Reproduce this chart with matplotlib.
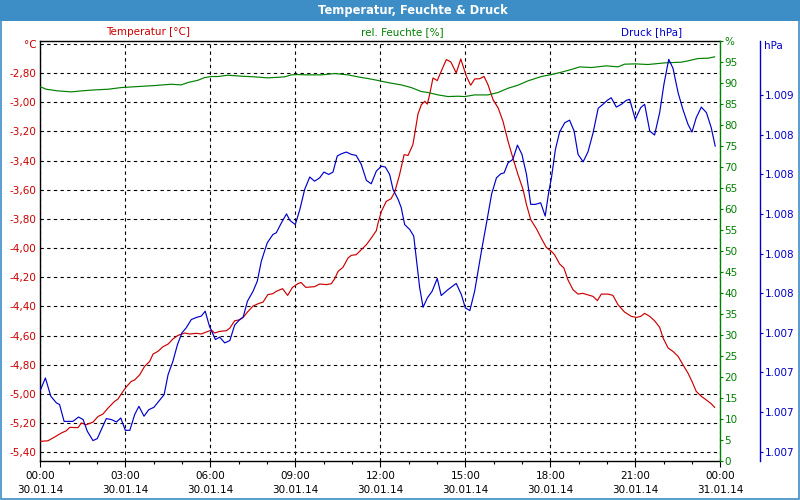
import numpy as np
import matplotlib
matplotlib.use("Agg")
import matplotlib.pyplot as plt
from matplotlib.patches import Rectangle
from matplotlib.ticker import FixedLocator, FuncFormatter, MultipleLocator

title = "Temperatur, Feuchte & Druck"
series_labels = ["Temperatur [°C]", "rel. Feuchte [%]", "Druck [hPa]"]
unit_labels = ["°C", "%", "hPa"]

x_ticks = [0, 3, 6, 9, 12, 15, 18, 21, 24]
x_tick_labels = ["00:00\n30.01.14", "03:00\n30.01.14", "06:00\n30.01.14",
                 "09:00\n30.01.14", "12:00\n30.01.14", "15:00\n30.01.14",
                 "18:00\n30.01.14", "21:00\n30.01.14", "00:00\n31.01.14"]

temp_ticks = [-5.4, -5.2, -5.0, -4.8, -4.6, -4.4, -4.2, -4.0, -3.8, -3.6, -3.4, -3.2, -3.0, -2.8, -2.6]
hum_ticks = list(range(0, 101, 5))
press_ticks = [1006.8, 1007.0, 1007.2, 1007.4, 1007.6, 1007.8, 1008.0, 1008.2, 1008.4, 1008.6]

# time in hours since 30.01.14 00:00
t_temp = [0.01, 0.27, 0.51, 0.74, 0.92, 1.04, 1.33, 1.45, 1.62, 1.86, 2.04, 2.21, 2.39, 2.62, 2.74,
          2.92, 3.04, 3.21, 3.33, 3.51, 3.68, 3.86, 3.98, 4.15, 4.33, 4.51, 4.68, 4.86, 5.10, 5.27,
          5.51, 5.68, 5.86, 6.04, 6.15, 6.33, 6.57, 6.69, 6.86, 7.04, 7.16, 7.33, 7.51, 7.69, 7.86,
          8.03, 8.21, 8.33, 8.55, 8.73, 8.90, 9.09, 9.20, 9.37, 9.68, 9.86, 10.10, 10.27, 10.39,
          10.51, 10.68, 10.86, 10.98, 11.15, 11.33, 11.51, 11.68, 11.86, 11.92, 12.04, 12.21, 12.38,
          12.51, 12.68, 12.84, 12.98, 13.15, 13.23, 13.33, 13.45, 13.57, 13.66, 13.74, 13.86, 14.01,
          14.15, 14.33, 14.49, 14.68, 14.84, 15.04, 15.19, 15.33, 15.51, 15.66, 15.80, 15.98, 16.16,
          16.33, 16.51, 16.68, 16.86, 17.04, 17.16, 17.31, 17.51, 17.68, 17.86, 18.04, 18.15, 18.33,
          18.48, 18.62, 18.80, 18.98, 19.15, 19.31, 19.51, 19.66, 19.80, 20.04, 20.21, 20.39, 20.62,
          20.86, 21.04, 21.19, 21.33, 21.51, 21.68, 21.86, 21.98, 22.16, 22.33, 22.51, 22.68, 22.86,
          23.00, 23.15, 23.33, 23.54, 23.68, 23.80]
temp = [-5.325, -5.321, -5.295, -5.268, -5.252, -5.229, -5.231, -5.199, -5.211, -5.193, -5.154, -5.138,
        -5.097, -5.051, -5.035, -4.982, -4.950, -4.914, -4.904, -4.868, -4.811, -4.777, -4.726, -4.708,
        -4.676, -4.658, -4.623, -4.598, -4.582, -4.589, -4.584, -4.589, -4.575, -4.562, -4.582, -4.571,
        -4.566, -4.548, -4.498, -4.491, -4.475, -4.434, -4.397, -4.381, -4.370, -4.319, -4.312, -4.296,
        -4.278, -4.324, -4.269, -4.244, -4.235, -4.269, -4.264, -4.246, -4.250, -4.244, -4.210, -4.159,
        -4.132, -4.068, -4.049, -4.045, -4.011, -3.976, -3.931, -3.880, -3.828, -3.748, -3.679, -3.661,
        -3.615, -3.496, -3.359, -3.364, -3.290, -3.199, -3.080, -3.016, -2.993, -3.012, -2.948, -2.833,
        -2.851, -2.787, -2.707, -2.723, -2.799, -2.703, -2.822, -2.883, -2.840, -2.838, -2.822, -2.879,
        -2.982, -3.039, -3.130, -3.268, -3.382, -3.496, -3.599, -3.702, -3.805, -3.867, -3.931, -3.995,
        -4.022, -4.045, -4.109, -4.136, -4.216, -4.285, -4.315, -4.310, -4.319, -4.331, -4.360, -4.315,
        -4.315, -4.324, -4.388, -4.438, -4.468, -4.475, -4.468, -4.447, -4.468, -4.498, -4.543, -4.616,
        -4.685, -4.708, -4.742, -4.799, -4.857, -4.914, -4.982, -5.016, -5.046, -5.067, -5.092]

t_hum = [0.01, 0.21, 0.62, 1.10, 1.45, 1.92, 2.39, 2.86, 3.45, 4.04, 4.62, 4.97, 5.21, 5.57, 5.80,
         6.04, 6.27, 6.62, 7.10, 7.57, 8.04, 8.62, 8.86, 9.09, 9.45, 9.92, 10.39, 10.86, 11.21, 11.57,
         11.92, 12.04, 12.39, 12.74, 13.09, 13.45, 13.69, 14.04, 14.39, 14.74, 14.98, 15.33, 15.80,
         16.15, 16.51, 16.86, 17.21, 17.68, 18.04, 18.39, 18.74, 19.04, 19.45, 19.98, 20.39, 20.62,
         21.00, 21.45, 22.04, 22.62, 22.86, 23.21, 23.56, 23.80]
hum = [88.97, 88.41, 88.02, 87.78, 88.02, 88.25, 88.41, 88.81, 89.05, 89.29, 89.60, 89.44, 90.00,
       90.56, 91.19, 91.43, 91.43, 91.75, 91.51, 91.35, 91.11, 91.35, 91.83, 91.90, 91.83, 91.83,
       92.14, 91.83, 91.35, 90.95, 90.50, 90.30, 89.84, 89.44, 88.81, 87.86, 87.62, 87.06, 86.67,
       86.75, 86.67, 87.06, 87.06, 87.62, 88.65, 89.37, 90.40, 91.43, 91.90, 92.46, 93.10, 93.73,
       93.57, 93.97, 93.73, 94.37, 94.44, 94.29, 94.68, 94.84, 95.16, 95.71, 95.79, 96.11]

t_press = [0.01, 0.18, 0.37, 0.57, 0.68, 0.84, 1.15, 1.35, 1.51, 1.66, 1.86, 2.01, 2.33, 2.51, 2.69,
           2.84, 3.00, 3.16, 3.33, 3.48, 3.66, 3.83, 4.01, 4.18, 4.37, 4.51, 4.68, 4.84, 5.00, 5.15,
           5.33, 5.54, 5.68, 5.82, 5.97, 6.04, 6.18, 6.33, 6.51, 6.69, 6.86, 7.04, 7.16, 7.31, 7.51,
           7.66, 7.80, 8.01, 8.21, 8.33, 8.51, 8.69, 8.81, 9.00, 9.16, 9.33, 9.51, 9.68, 9.86, 10.01,
           10.18, 10.33, 10.48, 10.62, 10.80, 10.98, 11.15, 11.33, 11.51, 11.68, 11.86, 12.04, 12.18,
           12.33, 12.45, 12.63, 12.74, 12.86, 13.04, 13.18, 13.27, 13.39, 13.51, 13.66, 13.83, 14.01,
           14.15, 14.39, 14.68, 14.86, 15.00, 15.16, 15.33, 15.45, 15.59, 15.75, 15.93, 16.10, 16.25,
           16.37, 16.51, 16.68, 16.84, 17.00, 17.16, 17.31, 17.47, 17.66, 17.82, 17.94, 18.04, 18.18,
           18.33, 18.51, 18.68, 18.84, 18.98, 19.16, 19.33, 19.51, 19.69, 19.86, 20.01, 20.15, 20.33,
           20.51, 20.68, 20.80, 21.00, 21.19, 21.33, 21.51, 21.68, 21.86, 22.01, 22.18, 22.33, 22.51,
           22.68, 22.86, 23.00, 23.15, 23.33, 23.51, 23.68, 23.82]
press = [1007.113, 1007.172, 1007.080, 1007.046, 1007.038, 1006.953, 1006.953, 1006.975, 1006.962,
         1006.903, 1006.856, 1006.866, 1006.967, 1006.962, 1006.950, 1006.970, 1006.908, 1006.908,
         1006.987, 1007.029, 1006.979, 1007.012, 1007.024, 1007.054, 1007.088, 1007.189, 1007.256,
         1007.340, 1007.400, 1007.425, 1007.467, 1007.479, 1007.484, 1007.509, 1007.433, 1007.411,
         1007.366, 1007.378, 1007.349, 1007.361, 1007.439, 1007.467, 1007.479, 1007.559, 1007.610,
         1007.661, 1007.761, 1007.854, 1007.896, 1007.905, 1007.955, 1008.000, 1007.967, 1007.946,
         1008.022, 1008.123, 1008.186, 1008.165, 1008.182, 1008.211, 1008.199, 1008.211, 1008.292,
         1008.303, 1008.312, 1008.300, 1008.295, 1008.249, 1008.169, 1008.152, 1008.216, 1008.241,
         1008.236, 1008.199, 1008.123, 1008.073, 1008.031, 1007.946, 1007.921, 1007.888, 1007.778,
         1007.627, 1007.529, 1007.576, 1007.610, 1007.674, 1007.588, 1007.618, 1007.649, 1007.593,
         1007.526, 1007.512, 1007.610, 1007.711, 1007.829, 1007.955, 1008.101, 1008.182, 1008.202,
         1008.207, 1008.258, 1008.275, 1008.347, 1008.300, 1008.199, 1008.048, 1008.048, 1008.056,
         1007.989, 1008.106, 1008.182, 1008.325, 1008.414, 1008.460, 1008.473, 1008.418, 1008.300,
         1008.263, 1008.313, 1008.409, 1008.533, 1008.553, 1008.573, 1008.586, 1008.539, 1008.553,
         1008.573, 1008.578, 1008.477, 1008.536, 1008.553, 1008.418, 1008.398, 1008.511, 1008.654,
         1008.780, 1008.735, 1008.612, 1008.527, 1008.452, 1008.413, 1008.485, 1008.539, 1008.511,
         1008.435, 1008.342]

RED = "#cc0000"
GREEN = "#008000"
BLUE = "#0000cc"
BAR = "#3d8ec6"
FS = 7.5
LW = 0.85

plt.rcParams["font.family"] = ["DejaVu Sans"]

fig = plt.figure(figsize=(8, 5), dpi=100)
fig.patch.set_facecolor("white")

# title bar and border
fig.add_artist(Rectangle((0, 1 - 21 / 500), 1, 21 / 500, transform=fig.transFigure,
                         facecolor=BAR, edgecolor="none", zorder=0))
fig.add_artist(Rectangle((0.0008, 0.0012), 0.9984, 0.9976, transform=fig.transFigure,
                         fill=False, edgecolor=BAR, lw=1.2, zorder=5))
fig.text(413 / 800, 1 - 10.5 / 500, title, color="white", fontsize=8.3, fontweight="bold",
         ha="center", va="center")

fig.text(148.5 / 800, 1 - 32 / 500, series_labels[0], color=RED, fontsize=FS, ha="center", va="center")
fig.text(402.5 / 800, 1 - 32 / 500, series_labels[1], color=GREEN, fontsize=FS, ha="center", va="center")
fig.text(652 / 800, 1 - 32 / 500, series_labels[2], color=BLUE, fontsize=FS, ha="center", va="center")

ax = fig.add_axes([40.3 / 800, 39 / 500, 680 / 800, 420.5 / 500])
ax.set_facecolor("white")
ax.plot(t_temp, temp, color=RED, lw=LW, zorder=3)
ax.set_xlim(0, 24)
ax.set_ylim(-5.4597, -2.576)

ax.yaxis.set_major_locator(FixedLocator(temp_ticks))
ax.yaxis.set_major_formatter(FuncFormatter(
    lambda v, p: unit_labels[0] if abs(v - temp_ticks[-1]) < 1e-6 else f"{v:.2f}".replace(".", ",")))
ax.tick_params(axis="y", length=0, pad=3, labelcolor=RED, labelsize=FS)

ax.set_xticks(x_ticks)
ax.set_xticklabels(x_tick_labels, linespacing=1.45)
ax.xaxis.set_minor_locator(MultipleLocator(1))
ax.tick_params(axis="x", which="major", length=4, width=0.8, direction="out", pad=3.5,
               labelsize=FS, colors="black")
ax.tick_params(axis="x", which="minor", length=2.5, width=0.8, direction="out")

ax.grid(True, which="major", color="black", linestyle=(0, (3, 3)), lw=0.8)
for s in ["left", "top", "bottom"]:
    ax.spines[s].set_color("black")
    ax.spines[s].set_linewidth(1.0)
ax.spines["right"].set_visible(False)

ax2 = ax.twinx()
ax2.plot(t_hum, hum, color=GREEN, lw=LW, zorder=3)
ax2.set_ylim(0, 100)
ax2.yaxis.set_major_locator(FixedLocator(hum_ticks))
ax2.yaxis.set_major_formatter(FuncFormatter(
    lambda v, p: unit_labels[1] if v >= 99.5 else f"{v:.0f}"))
ax2.tick_params(axis="y", colors=GREEN, length=2.2, width=0.8, pad=0.8, labelsize=FS)
for s in ["left", "top", "bottom"]:
    ax2.spines[s].set_visible(False)
ax2.spines["right"].set_color(GREEN)
ax2.spines["right"].set_linewidth(1.0)

ax3 = ax.twinx()
ax3.plot(t_press, press, color=BLUE, lw=LW, zorder=3)
ax3.set_ylim(1006.753, 1008.875)
ax3.yaxis.set_major_locator(FixedLocator(press_ticks))
ax3.yaxis.set_major_formatter(FuncFormatter(lambda v, p: f"{v:,.0f}".replace(",", ".")))
ax3.tick_params(axis="y", colors=BLUE, length=2.2, width=0.8, pad=1.0, labelsize=FS)
for s in ["left", "top", "bottom"]:
    ax3.spines[s].set_visible(False)
ax3.spines["right"].set_position(("outward", 28.8))
ax3.spines["right"].set_color(BLUE)
ax3.spines["right"].set_linewidth(1.0)
ax3.annotate(unit_labels[2], xy=(1, 0.986), xycoords="axes fraction", xytext=(31.5, 0),
             textcoords="offset points", ha="left", va="center", color=BLUE, fontsize=FS)

fig.savefig("out.png", dpi=100, facecolor="white")
